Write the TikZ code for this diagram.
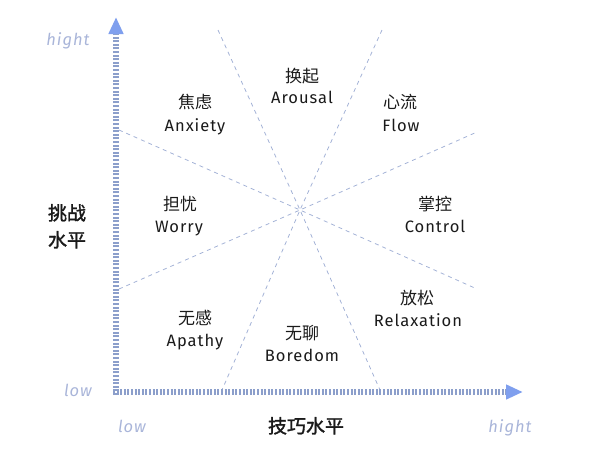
\documentclass[tikz,border=0pt]{standalone}
\usepackage{fontspec}
\setmainfont{Fira Sans}[LetterSpace=6]
\newfontfamily\cjk{Noto Sans CJK SC}
\newfontfamily\cjkmed{Noto Sans CJK SC}[FakeBold=1.6]
\usetikzlibrary{arrows.meta}
\definecolor{axiscol}{HTML}{8C9FCB}
\definecolor{tipcol}{HTML}{7F9FEE}
\definecolor{dashcol}{HTML}{A3B2D6}
\definecolor{lvlcol}{HTML}{A9B5D9}
\definecolor{txt}{HTML}{1A1A1A}
\begin{document}
\begin{tikzpicture}[x=1pt,y=-1pt,
  zh/.style={anchor=base,inner sep=0pt,text=txt,font=\cjk\fontsize{17}{20}\selectfont},
  en/.style={anchor=base,inner sep=0pt,text=txt,font=\fontsize{16.5}{20}\selectfont},
  ttl/.style={anchor=base,inner sep=0pt,text=txt,font=\cjkmed\fontsize{19}{22}\selectfont},
  lvl/.style={anchor=base,inner sep=0pt,text=lvlcol,font=\itshape\fontsize{16.5}{20}\selectfont},
  axis/.style={draw=axiscol,line width=6pt,dash pattern=on 2pt off 1.6pt,
     -{Triangle[width=14pt,length=17pt,color=tipcol,sep=0pt]}},
  zone/.style={draw=dashcol,line width=0.8pt,dash pattern=on 4pt off 4pt}]
\useasboundingbox (0,0) rectangle (600,448);
% zone boundaries
\coordinate (C) at (300,210);
\coordinate (t1) at (218,30);  \coordinate (b1) at (380,390);
\coordinate (t2) at (382,30);  \coordinate (b2) at (222,390);
\coordinate (l1) at (119,130); \coordinate (r1) at (477,289);
\coordinate (l2) at (119,289); \coordinate (r2) at (477,132);
\draw[zone] (t1) -- (C) -- (b1);
\draw[zone] (t2) -- (C) -- (b2);
\draw[zone] (l1) -- (C) -- (r1);
\draw[zone] (l2) -- (C) -- (r2);
% axes
\coordinate (O) at (116,392);
\coordinate (Ytip) at (116,17);
\coordinate (Xtip) at (523,392);
\draw[axis] (116,395) -- (Ytip);
\draw[axis] (113,392) -- (Xtip);
% zone labels
\node[zh] (anx-zh) at (195,108) {焦虑};
\node[en] (anx-en) at (195,131) {Anxiety};
\node[zh] (aro-zh) at (302,82) {换起};
\node[en] (aro-en) at (302,103) {Arousal};
\node[zh] (flo-zh) at (400,108) {心流};
\node[en] (flo-en) at (401,131) {Flow};
\node[zh] (wor-zh) at (180,210) {担忧};
\node[en] (wor-en) at (179,232) {Worry};
\node[zh] (con-zh) at (435,210) {掌控};
\node[en] (con-en) at (435,232) {Control};
\node[zh] (rel-zh) at (417,304) {放松};
\node[en] (rel-en) at (418,326) {Relaxation};
\node[zh] (apa-zh) at (195,324) {无感};
\node[en] (apa-en) at (195,346) {Apathy};
\node[zh] (bor-zh) at (302,339) {无聊};
\node[en] (bor-en) at (302,361) {Boredom};
% axis titles
\node[ttl] (ch1) at (67,220) {挑战};
\node[ttl] (ch2) at (67,247) {水平};
\node[ttl] (sk) at (306,433) {技巧水平};
% levels
\node[lvl] (yhi) at (68,45) {hight};
\node[lvl] (ylo) at (78,396) {low};
\node[lvl] (xlo) at (132,432) {low};
\node[lvl] (xhi) at (510,432) {hight};
\end{tikzpicture}
\end{document}
